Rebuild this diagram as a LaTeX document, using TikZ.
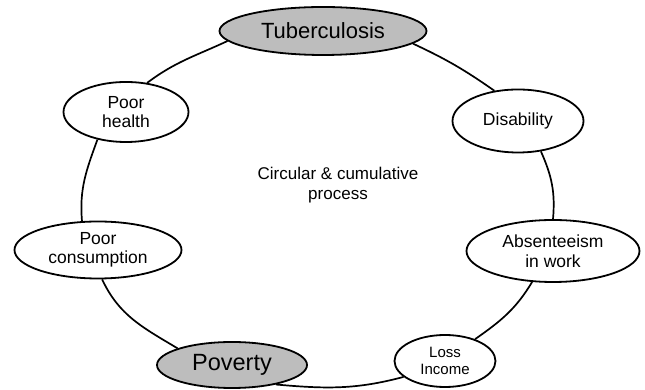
\documentclass[tikz,border=0pt]{standalone}
\usepackage{fontspec}
\setmainfont{Liberation Sans}
\usetikzlibrary{shapes.geometric}
\begin{document}
\begin{tikzpicture}[x=1pt,y=1pt,
  bub/.style={ellipse, draw=black, line width=1.8pt, fill=white, inner sep=0pt,
    align=center, font=\fontsize{17.5}{19.5}\selectfont},
  hub/.style={fill=black!26},
  link/.style={line width=1.7pt}]
\useasboundingbox (0,0) rectangle (645,390);
\node[bub, hub, minimum width=207pt, minimum height=48pt,
  font=\fontsize{22}{24}\selectfont] (tb) at (323,359) {Tuberculosis};
\node[bub, minimum width=131pt, minimum height=63pt] (dis) at (518,269) {Disability};
\node[bub, minimum width=173pt, minimum height=62pt] (abs) at (553,139) {Absenteeism\\in work};
\node[bub, minimum width=101pt, minimum height=52pt,
  font=\fontsize{15}{17}\selectfont] (loss) at (445,29) {Loss\\Income};
\node[bub, hub, minimum width=150pt, minimum height=46pt,
  font=\fontsize{23.5}{25}\selectfont] (pov) at (232,25) {Poverty};
\node[bub, minimum width=167pt, minimum height=57pt] (pc) at (98,140) {Poor\\consumption};
\node[bub, minimum width=125pt, minimum height=60pt] (ph) at (126,278) {Poor\\health};
\node[align=center, font=\fontsize{17}{19.5}\selectfont] (ctr) at (338,205)
  {Circular \& cumulative\\process};
\draw[link] (tb.-8) to[out=-25, in=145] (dis.128);
\draw[link] (dis.-53) to[out=-66, in=85] (abs.90);
\draw[link] (abs.-124) to[out=-121, in=35] (loss.36);
\draw[link] (loss.-159) to[out=-165, in=-5] (pov.-24);
\draw[link] (pov.163) to[out=149, in=-65] (pc.-82);
\draw[link] (pc.119) to[out=95, in=-110] (ph.-136);
\draw[link] (ph.54) to[out=37, in=205] (tb.186);
\end{tikzpicture}
\end{document}
